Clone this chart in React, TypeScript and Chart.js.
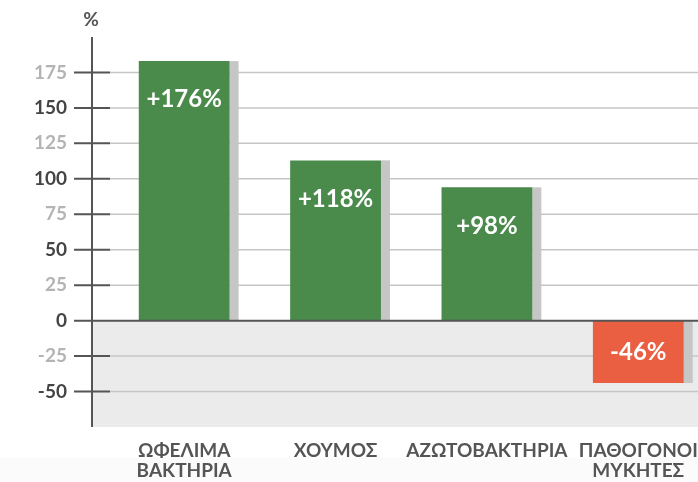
import { useEffect, useRef } from "react";
import { Chart, registerables } from "chart.js";

Chart.register(...registerables);

// ---- data ----
const categories: string[][] = [
  ["ΩΦΕΛΙΜΑ", "ΒΑΚΤΗΡΙΑ"],
  ["ΧΟΥΜΟΣ"],
  ["ΑΖΩΤΟΒΑΚΤΗΡΙΑ"],
  ["ΠΑΘΟΓΟΝΟΙ", "ΜΥΚΗΤΕΣ"],
];
const barValues = [183, 113, 94, -44];
const valueLabels = ["+176%", "+118%", "+98%", "-46%"];
const yMin = -75;
const yMax = 200;
const yStep = 25;
const axisUnit = "%";

const FONT = "Lato, 'Open Sans', 'Noto Sans', 'DejaVu Sans', sans-serif";
const GREEN = "#4a8a4b";
const RED = "#ea5e41";
const SHADOW = "#c6c6c6";
const AXIS = "#555555";

const decor = {
  id: "decor",
  beforeDatasetsDraw(chart: any) {
    const { ctx, chartArea, scales } = chart;
    const y = scales.y;
    const ax = chartArea.left - 16.5;
    const W = chart.width;
    const y0 = y.getPixelForValue(0);
    ctx.save();
    ctx.fillStyle = "#ebebeb";
    ctx.fillRect(ax, y0, W - ax, chartArea.bottom - y0);
    ctx.strokeStyle = "#c6c6c6";
    ctx.lineWidth = 1.5;
    y.ticks.forEach((t: any) => {
      if (t.value === 0) return;
      const py = y.getPixelForValue(t.value);
      const edge = t.value === yMax || t.value === yMin;
      ctx.lineWidth = t.value === yMin ? 2 : 1.5;
      ctx.beginPath();
      ctx.moveTo(ax + (edge ? 0 : 18), py);
      ctx.lineTo(W, py);
      ctx.stroke();
    });
    const meta = chart.getDatasetMeta(0);
    ctx.fillStyle = SHADOW;
    meta.data.forEach((bar: any) => {
      const p = bar.getProps(["x", "y", "base", "width"], true);
      ctx.fillRect(p.x + p.width / 2, Math.min(p.y, p.base), 9, Math.abs(p.base - p.y));
    });
    ctx.restore();
  },
  afterDatasetsDraw(chart: any) {
    const { ctx, chartArea, scales } = chart;
    const y = scales.y;
    const ax = chartArea.left - 16.5;
    const W = chart.width;
    ctx.save();
    ctx.strokeStyle = AXIS;
    ctx.lineWidth = 2;
    y.ticks.forEach((t: any) => {
      if (t.value === yMax || t.value === yMin) return;
      const py = y.getPixelForValue(t.value);
      ctx.beginPath();
      ctx.moveTo(ax - 18, py);
      ctx.lineTo(t.value === 0 ? W : ax + 18, py);
      ctx.stroke();
    });
    ctx.beginPath();
    ctx.moveTo(ax, chartArea.top);
    ctx.lineTo(ax, chartArea.bottom);
    ctx.stroke();

    ctx.fillStyle = AXIS;
    ctx.font = `bold 19px ${FONT}`;
    ctx.textAlign = "center";
    ctx.textBaseline = "middle";
    ctx.fillText(axisUnit, ax - 1, chartArea.top - 17);

    const meta = chart.getDatasetMeta(0);
    ctx.fillStyle = "#ffffff";
    ctx.font = `bold 24px ${FONT}`;
    meta.data.forEach((bar: any, i: number) => {
      const p = bar.getProps(["x", "y", "base"], true);
      const top = Math.min(p.y, p.base);
      const mid = (p.y + p.base) / 2;
      const ly = Math.min(top + 38.5, mid);
      ctx.fillText(valueLabels[i], p.x, ly);
    });
    ctx.restore();
  },
};

export default function App() {
  const ref = useRef<HTMLCanvasElement | null>(null);
  useEffect(() => {
    if (!ref.current) return;
    const chart = new Chart(ref.current, {
      type: "bar",
      data: {
        labels: categories as any,
        datasets: [
          {
            data: barValues,
            backgroundColor: barValues.map((v) => (v >= 0 ? GREEN : RED)),
            borderWidth: 0,
            barPercentage: 0.6,
            categoryPercentage: 1,
          },
        ],
      },
      options: {
        animation: false,
        responsive: false,
        layout: { padding: { top: 37, right: 6, left: 0, bottom: 0 } },
        plugins: { legend: { display: false }, tooltip: { enabled: false } },
        scales: {
          x: {
            grid: { display: false, drawTicks: false },
            border: { display: false },
            ticks: {
              color: AXIS,
              font: { family: FONT, size: 19, weight: "bold", lineHeight: 1.05 },
              padding: 14,
              maxRotation: 0,
              minRotation: 0,
              autoSkip: false,
            },
            afterFit: (s: any) => {
              s.height = 55;
            },
          },
          y: {
            min: yMin,
            max: yMax,
            grid: { display: false, drawTicks: false },
            border: { display: false },
            ticks: {
              stepSize: yStep,
              padding: 41.5,
              font: { family: FONT, size: 19, weight: "bold" },
              color: (c: any) =>
                Math.abs(Math.round(c.tick.value / yStep)) % 2 === 1 ? "#b4b4b4" : "#444444",
              callback: (v: any) => (v === yMax || v === yMin ? null : String(v)),
            },
            afterFit: (s: any) => {
              s.width = 108.5;
              s.paddingTop = 0;
              s.paddingBottom = 0;
            },
          },
        },
      },
      plugins: [decor],
    });
    return () => chart.destroy();
  }, []);
  return (
    <div
      style={{
        position: "fixed",
        left: 0,
        top: 0,
        width: 698,
        height: 482,
        overflow: "hidden",
        background: "linear-gradient(to bottom, #ffffff 0px, #ffffff 457px, #fbfbfb 458px, #fbfbfb 482px)",
      }}
    >
      <canvas ref={ref} width={720} height={482} style={{ display: "block" }} />
    </div>
  );
}
